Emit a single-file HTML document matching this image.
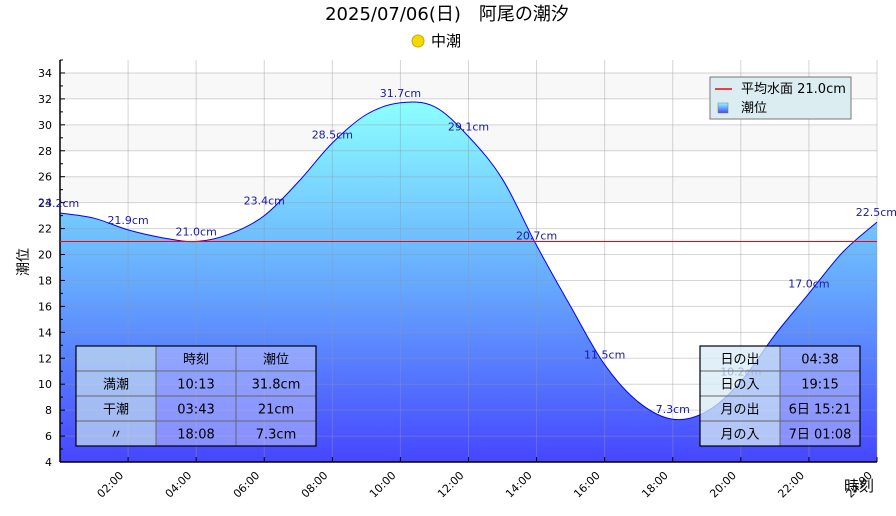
<!DOCTYPE html>
<html><head><meta charset="utf-8"><style>
body{margin:0;background:#fff;width:896px;height:512px;overflow:hidden;font-family:"DejaVu Sans","Noto Sans CJK JP",sans-serif}
svg text{font-family:"DejaVu Sans","Noto Sans CJK JP",sans-serif}
</style></head><body>
<svg id="chart" width="896" height="512" xmlns="http://www.w3.org/2000/svg">
<defs>
<linearGradient id="fillg" x1="0" y1="0" x2="0" y2="1">
<stop offset="0" stop-color="#8cffff"/><stop offset="0.5" stop-color="#66aaff"/><stop offset="1" stop-color="#4646ff"/>
</linearGradient>
<linearGradient id="legg" x1="0" y1="0" x2="0" y2="1"><stop offset="0" stop-color="#8cffff"/><stop offset="1" stop-color="#4646ff"/></linearGradient>
</defs>
<g id="bands"></g><g id="area"></g><g id="grid"></g><g id="mean"></g><g id="labels"></g>
<text x="447" y="20" font-size="18" text-anchor="middle" fill="#000">2025/07/06(日)　阿尾の潮汐</text>
<circle cx="418" cy="41" r="6" fill="#f5d800" stroke="#c8a800"/>
<text x="431" y="46" font-size="15" fill="#000">中潮</text>
<text x="28" y="262" font-size="14" transform="rotate(-90 28 262)" text-anchor="middle">潮位</text>
<text x="859" y="491" font-size="15" text-anchor="middle">時刻</text>
<g>
<rect x="710" y="77" width="141" height="42" fill="#dcedf2" stroke="#777"/>
<line x1="715" y1="89" x2="732" y2="89" stroke="red" stroke-width="1.5"/>
<text x="741" y="93" font-size="13">平均水面 21.0cm</text>
<rect x="718" y="103" width="10" height="10" fill="url(#legg)" stroke="#777" stroke-width="0.5"/>
<text x="741" y="112" font-size="13">潮位</text>
</g>
<g id="tables"></g>
</svg>
<script>
const hours=[0,1,2,3,4,5,6,7,8,9,10,11,12,13,14,15,16,17,18,19,20,21,22,23,24];
const levels=[23.2,22.8,21.9,21.3,21.0,21.6,23.0,25.6,28.6,30.8,31.7,31.4,29.1,25.8,20.7,16.0,11.5,8.6,7.3,7.9,10.2,13.8,17.0,20.2,22.5];
const labelHours=[0,2,4,6,8,10,12,14,16,18,20,22,24];
const labelValues=[23.2,21.9,21.0,23.4,28.5,31.7,29.1,20.7,11.5,7.3,10.2,17.0,22.5];
const yTicks=[4,6,8,10,12,14,16,18,20,22,24,26,28,30,32,34];
const xTicks=[2,4,6,8,10,12,14,16,18,20,22,24];
const meanLevel=21.0;
const L=60,R=877,T=60,B=462,ymin=4,ymax=35;
const X=h=>L+(R-L)*h/24;
const Y=v=>B-(B-T)*(v-ymin)/(ymax-ymin);
const NS="http://www.w3.org/2000/svg";
function mk(tag,attrs,parent,txt){const e=document.createElementNS(NS,tag);for(const k in attrs)e.setAttribute(k,attrs[k]);if(txt!=null)e.textContent=txt;document.getElementById(parent).appendChild(e);return e;}
for(const b of [[32,34],[28,30],[24,26]]){
const e=mk('rect',{x:L,y:Y(b[1]),width:R-L,height:Y(b[0])-Y(b[1]),fill:'#f8f8f8'},'bands');


}
// smooth Catmull-Rom path
const pts=hours.map((h,i)=>[X(h),Y(levels[i])]);
let curve='M'+pts[0][0].toFixed(1)+','+pts[0][1].toFixed(1);
for(let i=0;i<pts.length-1;i++){
const p0=pts[Math.max(0,i-1)],p1=pts[i],p2=pts[i+1],p3=pts[Math.min(pts.length-1,i+2)];
const c1=[p1[0]+(p2[0]-p0[0])/6,p1[1]+(p2[1]-p0[1])/6];
const c2=[p2[0]-(p3[0]-p1[0])/6,p2[1]-(p3[1]-p1[1])/6];
curve+=` C${c1[0].toFixed(1)},${c1[1].toFixed(1)} ${c2[0].toFixed(1)},${c2[1].toFixed(1)} ${p2[0].toFixed(1)},${p2[1].toFixed(1)}`;
}
const a=mk('path',{d:curve+` L${R},${B} L${L},${B} Z`,fill:'url(#fillg)',stroke:'none'},'area');


const ln=mk('path',{d:curve,fill:'none',stroke:'#0000ff','stroke-width':1},'mean');


yTicks.forEach(v=>{
const g=mk('line',{x1:L,x2:R,y1:Y(v),y2:Y(v),stroke:'rgba(150,150,150,0.4)'},'grid');


const t=mk('text',{x:L-8,y:Y(v)+4,'font-size':11,'text-anchor':'end'},'grid',String(v));


mk('line',{x1:L,x2:L+5,y1:Y(v),y2:Y(v),stroke:'#000'},'grid');
mk('line',{x1:L,x2:L+3,y1:Y(v+1),y2:Y(v+1),stroke:'#000'},'grid');
});
xTicks.forEach(h=>{
const g=mk('line',{x1:X(h),x2:X(h),y1:T,y2:B,stroke:'rgba(150,150,150,0.4)'},'grid');


mk('line',{x1:X(h),x2:X(h),y1:B,y2:B-5,stroke:'#000'},'grid');
const lbl=(h<10?'0':'')+h+':00';
const t=mk('text',{x:X(h)-4,y:B+14,'font-size':11,'text-anchor':'end',transform:`rotate(-45 ${X(h)-4} ${B+14})`},'grid',lbl);


});
mk('line',{x1:L,x2:L,y1:T,y2:B,stroke:'#000','stroke-width':1.5},'grid');
mk('line',{x1:L,x2:R,y1:B,y2:B,stroke:'#000','stroke-width':1.5},'grid');
const ml=mk('line',{x1:L,x2:R,y1:Y(meanLevel),y2:Y(meanLevel),stroke:'#ff0000','stroke-width':1},'mean');


labelHours.forEach((h,i)=>{
let x=X(h),anchor='middle';
if(h===0){x=X(h)-22;anchor='start';} if(h===24){x=R+20;anchor='end';}
const t=mk('text',{x:x,y:Y(labelValues[i])-6,'font-size':11,fill:'#1a1aa0','text-anchor':anchor},'labels',labelValues[i].toFixed(1)+'cm');


});
function table(x0,y0,colW,rowH,rows,colFills,name){
const g=mk('g',{},'tables');
let cx=x0;
colW.forEach((w,c)=>{
const r=document.createElementNS(NS,'rect');
r.setAttribute('x',cx);r.setAttribute('y',y0);r.setAttribute('width',w);r.setAttribute('height',rowH*rows.length);r.setAttribute('fill',colFills[c]);g.appendChild(r);
rows.forEach((row,ri)=>{
const t=document.createElementNS(NS,'text');
t.setAttribute('x',cx+w/2);t.setAttribute('y',y0+ri*rowH+rowH/2+5);t.setAttribute('font-size',13);t.setAttribute('text-anchor','middle');t.textContent=row[c];


g.appendChild(t);
});
cx+=w;
});
const W=colW.reduce((a,b)=>a+b,0);
for(let i=1;i<rows.length;i++){const l=document.createElementNS(NS,'line');l.setAttribute('x1',x0);l.setAttribute('x2',x0+W);l.setAttribute('y1',y0+i*rowH);l.setAttribute('y2',y0+i*rowH);l.setAttribute('stroke','#666');g.appendChild(l);}
let lx=x0;colW.slice(0,-1).forEach(w=>{lx+=w;const l=document.createElementNS(NS,'line');l.setAttribute('x1',lx);l.setAttribute('x2',lx);l.setAttribute('y1',y0);l.setAttribute('y2',y0+rowH*rows.length);l.setAttribute('stroke','#666');g.appendChild(l);});
const b=document.createElementNS(NS,'rect');b.setAttribute('x',x0);b.setAttribute('y',y0);b.setAttribute('width',W);b.setAttribute('height',rowH*rows.length);b.setAttribute('fill','none');b.setAttribute('stroke','#000');b.setAttribute('stroke-width',1.2);g.appendChild(b);
}
table(76,346,[80,80,80],25,[['','時刻','潮位'],['満潮','10:13','31.8cm'],['干潮','03:43','21cm'],['〃','18:08','7.3cm']],['rgba(200,225,240,0.7)','rgba(190,195,255,0.55)','rgba(190,195,255,0.55)'],'tide-table');
table(700,346,[80,80],25,[['日の出','04:38'],['日の入','19:15'],['月の出','6日 15:21'],['月の入','7日 01:08']],['rgba(215,235,245,0.75)','rgba(190,195,255,0.55)'],'sun-moon-table');
</script>
</body></html>
